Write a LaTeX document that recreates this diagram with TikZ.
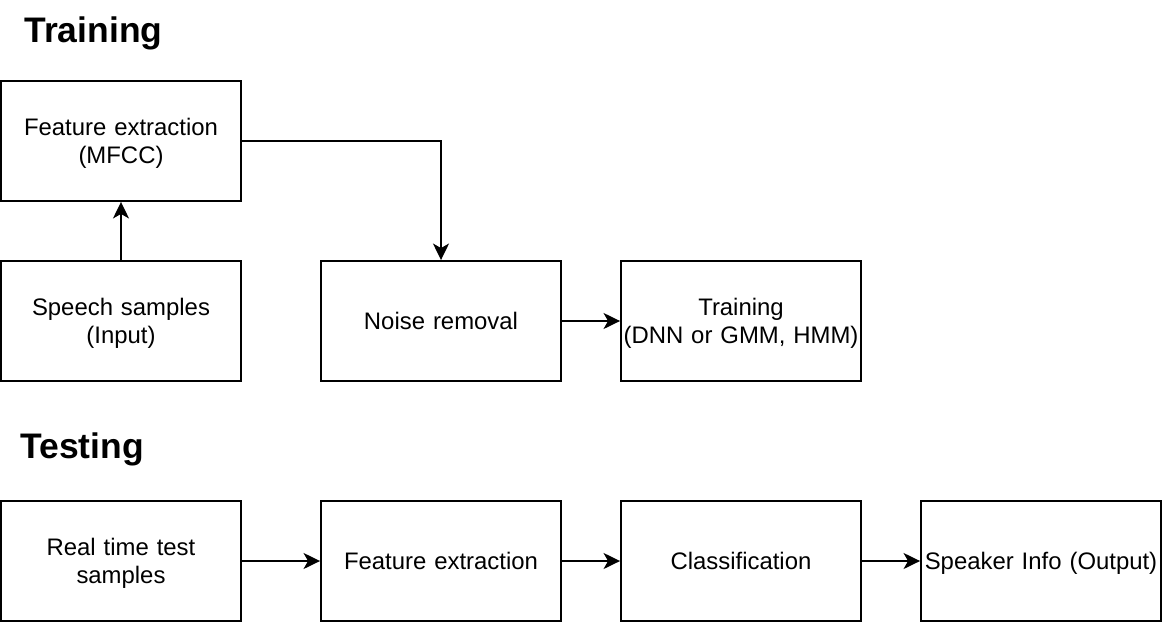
\documentclass[tikz,border=0pt]{standalone}
\usepackage{fontspec}
\setmainfont{Liberation Sans}
\usetikzlibrary{arrows.meta,positioning}
\newcommand\bxstrut{\rule[-0.255em]{0pt}{1.2em}}
\newcommand\bxtight{\lineskiplimit=-20pt\relax}
\tikzset{
  blk/.style={draw,line width=1.1pt,align=center,text width=4.7cm,minimum width=4.8cm,
              minimum height=2.4cm,inner xsep=0.05cm,inner ysep=1pt,
              font=\fontsize{13.6}{15.9}\selectfont,
              execute at begin node={\bxtight\bxstrut},
              execute at end node=\bxstrut},
  flow/.style={-{Stealth[length=3.3mm,width=3.2mm,inset=0.9mm]},line width=1.1pt},
  hdr/.style={font=\fontsize{20.2}{24}\selectfont\bfseries,anchor=west,inner sep=0pt},
}
\begin{document}
\begin{tikzpicture}[x=0.02cm,y=-0.02cm]
    \useasboundingbox (0,0) rectangle (1162,622);
    % section titles
    \node[hdr] (trn) at (24,33) {Training};
    \node[hdr] (tst) at (20,449) {Testing};
    % training: samples -> features -> noise removal -> model
    \node[blk] (feat)   at (121,141) {Feature extraction\\(MFCC)};
    \node[blk] (speech) at (121,321) {Speech samples\\(Input)};
    \node[blk] (noise)  at (441,321) {Noise removal};
    \node[blk] (train)  at (741,321) {Training\\(DNN or GMM, HMM)};
    \draw[flow] (speech) -- (feat);
    \draw[flow] (feat.east) -| (noise.north);
    \draw[flow] (noise) -- (train);
    % testing: one row, left to right
    \foreach \n/\x/\t in {rt/121/{Real time test\\samples},fx/441/{Feature extraction},
                          cls/741/{Classification},spk/1041/{Speaker Info (Output)}}
       \node[blk] (\n) at (\x,561) {\t};
    \foreach \a/\b in {rt/fx,fx/cls,cls/spk} \draw[flow] (\a) -- (\b);
  \end{tikzpicture}
\end{document}
